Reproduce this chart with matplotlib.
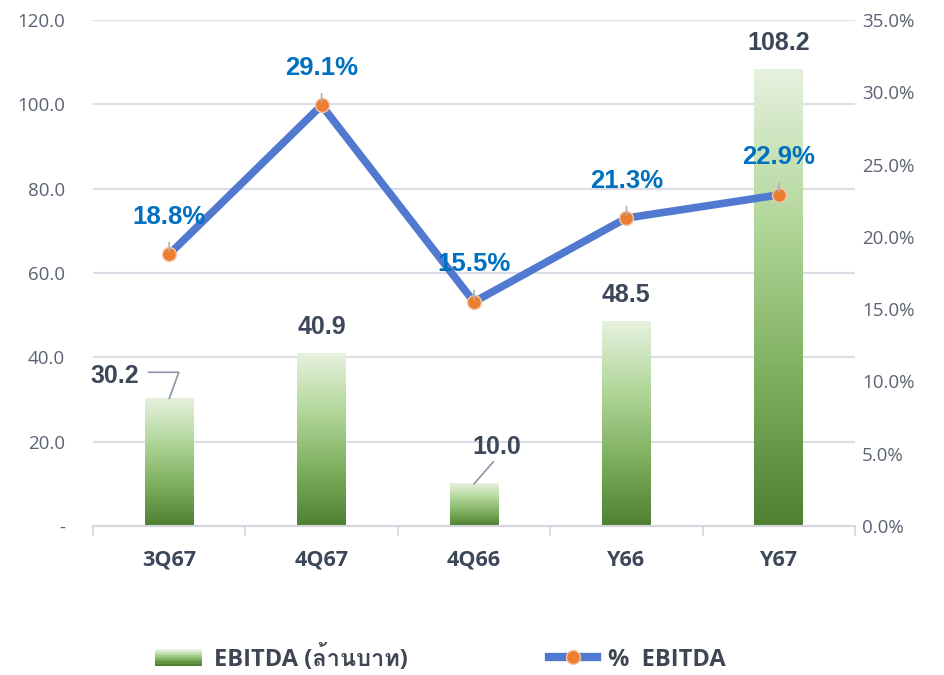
import matplotlib
matplotlib.use("Agg")
import matplotlib.pyplot as plt
import numpy as np
from matplotlib import font_manager
from matplotlib.ft2font import FT2Font
from matplotlib.colors import LinearSegmentedColormap
from matplotlib.patches import Rectangle
from matplotlib.legend_handler import HandlerBase
from matplotlib.lines import Line2D

# data
categories = ["3Q67", "4Q67", "4Q66", "Y66", "Y67"]
ebitda = [30.2, 40.9, 10.0, 48.5, 108.2]
ebitda_pct = [18.8, 29.1, 15.5, 21.3, 22.9]
left_ticks = [0, 20, 40, 60, 80, 100, 120]
right_ticks = [0, 5, 10, 15, 20, 25, 30, 35]


def find_thai_font():
    for f in font_manager.fontManager.ttflist:
        try:
            if ord("ล") in FT2Font(f.fname).get_charmap():
                return f.name
        except Exception:
            pass
    return None


thai = find_thai_font()
legend_family = ["Open Sans"] + ([thai] if thai else []) + ["DejaVu Sans"]

green_cmap = LinearSegmentedColormap.from_list(
    "g", ["#4f7f30", "#7fb060", "#b2d79a", "#e6f1df"])
tick_color = "#5b6272"
dark_label = "#3d475a"
pct_color = "#0070c0"
line_color = "#5079cf"
orange = "#ed7d31"

fig = plt.figure(figsize=(9.45, 6.75), dpi=100)
ax = fig.add_axes([0.0984, 0.2207, 0.8064, 0.7497])
ax2 = ax.twinx()

x = np.arange(len(categories))
bar_w = 0.32

# gradient bars
grad = np.linspace(0, 1, 256).reshape(-1, 1)
for xi, v in zip(x, ebitda):
    ax.imshow(grad, cmap=green_cmap, origin="lower", aspect="auto",
              extent=[xi - bar_w / 2, xi + bar_w / 2, 0, v], zorder=2)

ax.set_xlim(-0.5, len(categories) - 0.5)
ax.set_ylim(0, 120)
ax.set_yticks(left_ticks)
ax.set_yticklabels(["-"] + [f"{t:.1f}" for t in left_ticks[1:]])
ax.grid(axis="y", color="#dcdee7", linewidth=1.5, zorder=0)
ax.set_axisbelow(True)
for s in ["left", "right", "top"]:
    ax.spines[s].set_visible(False)
    ax2.spines[s].set_visible(False)
ax2.spines["bottom"].set_visible(False)
ax.spines["bottom"].set_color("#d3d6de")
ax.spines["bottom"].set_linewidth(1.5)

ax.set_xticks(x)
ax.set_xticklabels(categories, fontsize=15.5, fontweight="bold",
                   color=dark_label, family="Open Sans")
ax.set_xticks(np.arange(-0.5, len(categories), 1), minor=True)
ax.tick_params(axis="x", which="major", length=0, pad=17)
ax.tick_params(axis="x", which="minor", length=7, width=1.2, color="#d3d6de")
ax.tick_params(axis="y", length=0, pad=20, labelsize=13.5, labelcolor=tick_color)
for lbl in ax.get_yticklabels():
    lbl.set_family("Open Sans")

# line
ax2.set_ylim(0, 35)
ax2.set_yticks(right_ticks)
ax2.set_yticklabels([f"{t:.1f}%" for t in right_ticks])
ax2.tick_params(axis="y", length=0, pad=5, labelsize=13.5, labelcolor=tick_color)
for lbl in ax2.get_yticklabels():
    lbl.set_family("Open Sans")
ax2.plot(x, ebitda_pct, color=line_color, linewidth=5.5, solid_capstyle="round",
         zorder=3)
ax2.plot(x, ebitda_pct, linestyle="none", marker="o", markersize=10,
         markerfacecolor=orange, markeredgecolor="#f3c8a8", markeredgewidth=1,
         zorder=4)

# percentage labels
for xi, v in zip(x, ebitda_pct):
    ax2.annotate(f"{v:.1f}%", xy=(xi, v), xytext=(0, 27), textcoords="offset points",
                 ha="center", va="center", fontsize=18.5, fontweight="bold",
                 color=pct_color, family="Liberation Sans", zorder=5,
                 arrowprops=dict(arrowstyle="-", color="#b0b0b0", lw=1.2,
                                 shrinkA=8, shrinkB=2))

# bar labels
bar_offsets = [(-39, 16.5), (0, 19), (16.5, 26.5), (0, 19), (0, 19)]
for i, (xi, v) in enumerate(zip(x, ebitda)):
    dx, dy = bar_offsets[i]
    if i == 0:
        ax.annotate("", xy=(xi, v), xytext=(-15, 19), textcoords="offset points",
                    arrowprops=dict(arrowstyle="-", color="#8a94a6", lw=1.2,
                                    connectionstyle="angle,angleA=0,angleB=70,rad=0",
                                    shrinkA=0, shrinkB=0))
    elif i == 2:
        ax.annotate("", xy=(xi, v), xytext=(14, 16), textcoords="offset points",
                    arrowprops=dict(arrowstyle="-", color="#8a94a6", lw=1.2,
                                    shrinkA=0, shrinkB=0))
    ax.annotate(f"{v:.1f}", xy=(xi, v), xytext=(dx, dy), textcoords="offset points",
                ha="center", va="center", fontsize=18, fontweight="bold",
                color=dark_label, family="Liberation Sans")


class GradientHandler(HandlerBase):
    def create_artists(self, legend, orig, xd, yd, w, h, fontsize, trans):
        arts = []
        n = 8
        for k in range(n):
            c = green_cmap(k / (n - 1))
            r = Rectangle((xd, yd + h * k / n), w, h / n + 0.3, facecolor=c,
                          edgecolor="none", transform=trans)
            arts.append(r)
        return arts


bar_handle = Rectangle((0, 0), 1, 1)
line_handle = Line2D([], [], color=line_color, linewidth=6, marker="o",
                     markersize=10, markerfacecolor=orange,
                     markeredgecolor="#f3c8a8")
fig.legend([bar_handle, line_handle], ["EBITDA (ล้านบาท)", "%  EBITDA"],
           handler_map={Rectangle: GradientHandler()},
           loc="center", bbox_to_anchor=(0.466, 0.025), ncol=2, frameon=False,
           prop=dict(family=legend_family, size=17, weight="bold"),
           labelcolor="#3f4552", handlelength=2.0, columnspacing=6.0,
           handletextpad=0.5)

fig.savefig("out.png", dpi=100)
